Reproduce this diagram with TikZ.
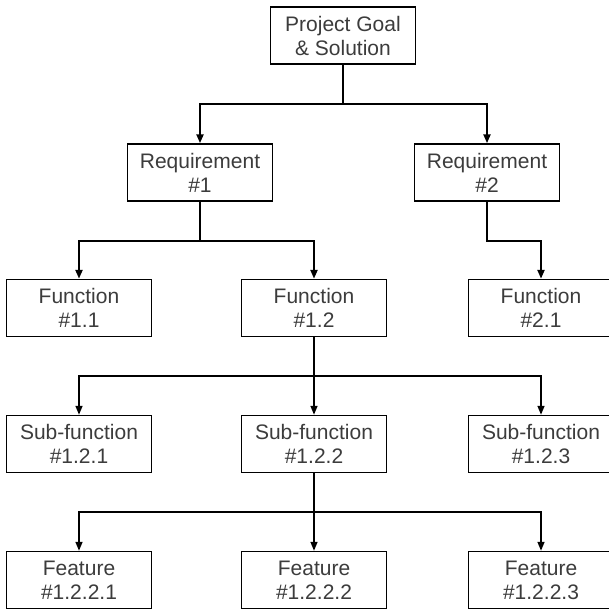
\documentclass[tikz,border=0pt]{standalone}
\usepackage{fontspec}
\setmainfont{Liberation Sans}
\usetikzlibrary{arrows.meta}
\definecolor{labelgray}{RGB}{60,60,60}
\begin{document}
\begin{tikzpicture}[x=1pt,y=-1pt,
  box/.style={draw=black, line width=1.5pt, fill=white,
    minimum width=145pt, minimum height=57pt, inner sep=0pt,
    align=center, text=labelgray, font=\fontsize{21}{24}\selectfont},
  bus/.style={line width=2.2pt, line cap=rect},
  drop/.style={line width=1.6pt, -{Triangle[length=9pt,width=7pt]}},
  elbow/.style={line width=2.2pt, -{Triangle[length=9pt,width=7pt]}},
]
\clip (0,0) rectangle (609,610);
\fill[white] (0,0) rectangle (609,610);

% boxes
\node[box] (pg)   at (343,35.5)  {Project Goal\\\& Solution};
\node[box] (r1)   at (200,172.5) {Requirement\\\#1};
\node[box] (r2)   at (487,172.5) {Requirement\\\#2};
\node[box] (f11)  at (79,308)    {Function\\\#1.1};
\node[box] (f12)  at (314,308)   {Function\\\#1.2};
\node[box] (f21)  at (541,308)   {Function\\\#2.1};
\node[box] (s121) at (79,444)    {Sub-function\\\#1.2.1};
\node[box] (s122) at (314,444)   {Sub-function\\\#1.2.2};
\node[box] (s123) at (541,444)   {Sub-function\\\#1.2.3};
\node[box] (e1)   at (79,580)    {Feature\\\#1.2.2.1};
\node[box] (e2)   at (314,580)   {Feature\\\#1.2.2.2};
\node[box] (e3)   at (541,580)   {Feature\\\#1.2.2.3};

% goal -> requirements
\coordinate (b0l) at (200,104);
\coordinate (b0r) at (487,104);
\draw[bus] (pg.south) -- (pg.south |- b0l);
\draw[bus] (b0l) -- (b0r);
\draw[elbow] (b0l) -- (r1.north);
\draw[elbow] (b0r) -- (r2.north);

% requirement 1 -> functions
\coordinate (b1l) at (79,241);
\coordinate (b1r) at (314,241);
\draw[bus] (r1.south) -- (r1.south |- b1l);
\draw[bus] (b1l) -- (b1r);
\draw[elbow] (b1l) -- (f11.north);
\draw[elbow] (b1r) -- (f12.north);

% requirement 2 -> function 2.1
\coordinate (b1x) at (487,241);
\draw[elbow] (r2.south) -- (b1x) -| (f21.north);

% function 1.2 -> sub-functions
\coordinate (b2l) at (79,376);
\coordinate (b2r) at (541,376);
\draw[bus] (f12.south) -- (f12.south |- b2l);
\draw[bus] (b2l) -- (b2r);
\draw[drop] (b2l) -- (s121.north);
\draw[drop] (f12.south |- b2l) -- (s122.north);
\draw[drop] (b2r) -- (s123.north);

% sub-function 1.2.2 -> features
\coordinate (b3l) at (79,512);
\coordinate (b3r) at (541,512);
\draw[bus] (s122.south) -- (s122.south |- b3l);
\draw[bus] (b3l) -- (b3r);
\draw[drop] (b3l) -- (e1.north);
\draw[drop] (s122.south |- b3l) -- (e2.north);
\draw[drop] (b3r) -- (e3.north);
\end{tikzpicture}
\end{document}
